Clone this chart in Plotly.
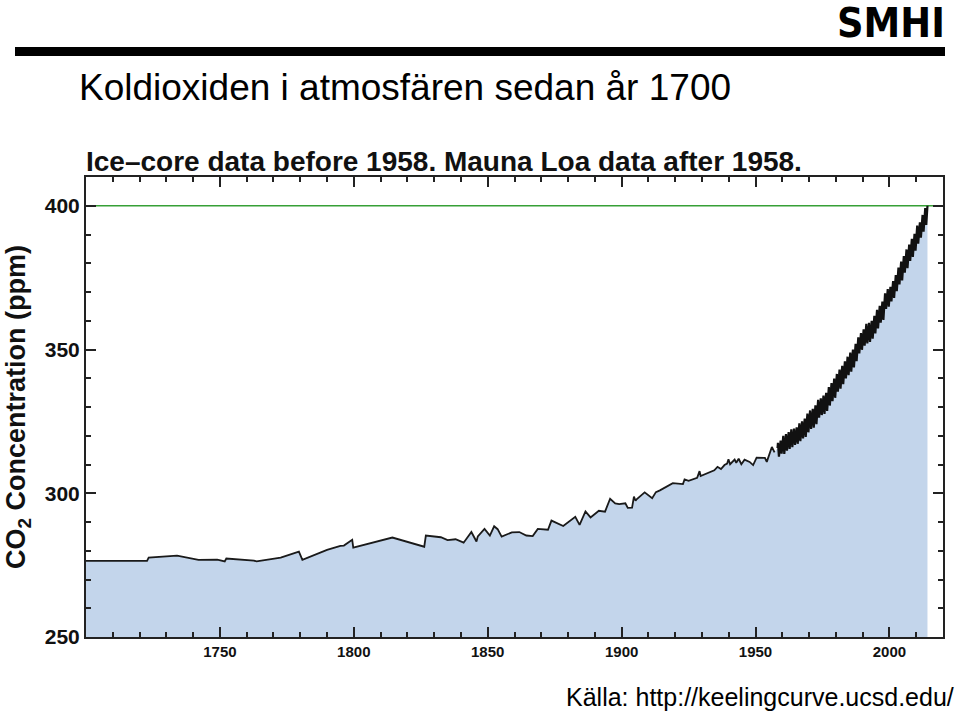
import plotly.graph_objects as go

# ---------------- data ----------------
ice_years = [1700.0, 1722.8, 1723.4, 1734.0, 1742.0, 1749.0, 1751.8, 1752.4, 1762.7, 1763.7,
             1772.7, 1779.5, 1780.8, 1790.0, 1795.0, 1796.3, 1799.4, 1799.8, 1814.4, 1826.3,
             1826.9, 1832.5, 1835.0, 1838.0, 1841.0, 1843.9, 1845.8, 1846.3, 1848.8, 1850.8,
             1852.4, 1853.7, 1855.2, 1859.0, 1861.8, 1864.4, 1866.8, 1868.7, 1872.5, 1873.8,
             1878.2, 1882.7, 1884.3, 1886.5, 1888.4, 1891.5, 1893.8, 1895.7, 1897.6, 1899.1,
             1901.4, 1902.3, 1903.9, 1904.6, 1905.2, 1905.7, 1908.6, 1911.4, 1912.8, 1914.3,
             1919.1, 1922.9, 1923.5, 1925.0, 1928.2, 1929.1, 1929.5, 1932.7, 1934.6, 1935.8,
             1937.1, 1938.4, 1939.4, 1939.9, 1940.5, 1942.2, 1942.8, 1943.7, 1944.7, 1945.9,
             1947.8, 1949.1, 1950.4, 1953.5, 1954.2, 1956.1, 1957.1]
ice_ppm = [276.5, 276.5, 277.6, 278.3, 276.8, 276.9, 276.3, 277.3, 276.6, 276.3,
           277.6, 279.7, 276.8, 280.3, 281.7, 281.8, 283.8, 281.1, 284.6, 281.4,
           285.3, 284.7, 283.7, 284.0, 282.8, 286.5, 283.2, 285.0, 287.6, 285.3,
           288.5, 287.5, 284.9, 286.4, 286.5, 285.3, 285.1, 287.6, 287.3, 290.5,
           288.6, 291.8, 289.0, 293.7, 291.6, 293.9, 293.6, 298.1, 296.5, 296.2,
           296.5, 294.9, 295.0, 298.8, 297.4, 298.0, 300.3, 298.3, 300.4, 301.0,
           303.5, 303.2, 304.8, 304.3, 305.4, 307.7, 306.0, 307.3, 308.0, 309.2,
           308.4, 309.8, 310.3, 311.8, 310.1, 311.7, 310.6, 312.0, 310.1, 311.7,
           310.9, 309.8, 312.4, 312.3, 310.9, 316.1, 314.2]

# Mauna Loa: seasonal maxima (May) and minima (late Sep/Oct)
ml_years = [1958.21, 1958.37, 1958.74, 1959.37, 1959.74, 1960.37, 1960.74, 1961.37, 1961.74,
            1962.37, 1962.74, 1963.37, 1963.74, 1964.37, 1964.74, 1965.37, 1965.74,
            1966.37, 1966.74, 1967.37, 1967.74, 1968.37, 1968.74, 1969.37, 1969.74,
            1970.37, 1970.74, 1971.37, 1971.74, 1972.37, 1972.74, 1973.37, 1973.74,
            1974.37, 1974.74, 1975.37, 1975.74, 1976.37, 1976.74, 1977.37, 1977.74,
            1978.37, 1978.74, 1979.37, 1979.74, 1980.37, 1980.74, 1981.37, 1981.74,
            1982.37, 1982.74, 1983.37, 1983.74, 1984.37, 1984.74, 1985.37, 1985.74,
            1986.37, 1986.74, 1987.37, 1987.74, 1988.37, 1988.74, 1989.37, 1989.74,
            1990.37, 1990.74, 1991.37, 1991.74, 1992.37, 1992.74, 1993.37, 1993.74,
            1994.37, 1994.74, 1995.37, 1995.74, 1996.37, 1996.74, 1997.37, 1997.74,
            1998.37, 1998.74, 1999.37, 1999.74, 2000.37, 2000.74, 2001.37, 2001.74,
            2002.37, 2002.74, 2003.37, 2003.74, 2004.37, 2004.74, 2005.37, 2005.74,
            2006.37, 2006.74, 2007.37, 2007.74, 2008.37, 2008.74, 2009.37, 2009.74,
            2010.37, 2010.74, 2011.37, 2011.74, 2012.37, 2012.74, 2013.37, 2013.74,
            2014.20]
ml_ppm = [315.7, 317.5, 312.7, 318.3, 313.8, 320.0, 313.7, 320.6, 314.8,
          321.3, 315.4, 322.2, 316.0, 322.5, 316.8, 322.9, 317.2,
          324.3, 318.1, 325.0, 319.1, 326.0, 319.6, 327.7, 321.2,
          328.8, 322.4, 329.4, 322.8, 330.6, 324.0, 332.5, 326.3,
          333.0, 327.2, 334.0, 327.6, 334.9, 328.6, 336.9, 330.5,
          338.3, 332.0, 339.9, 333.2, 341.5, 335.3, 343.0, 336.4,
          344.3, 337.9, 345.9, 339.9, 347.5, 341.1, 348.9, 342.3,
          350.0, 343.8, 352.0, 345.9, 354.2, 348.6, 355.7, 349.9,
          357.0, 351.3, 358.9, 352.1, 359.3, 352.6, 360.0, 353.8,
          361.7, 355.6, 363.8, 357.3, 365.2, 359.3, 366.7, 360.3,
          369.5, 364.1, 371.0, 364.9, 371.8, 366.7, 373.8, 367.9,
          375.9, 370.3, 378.5, 372.6, 380.6, 374.0, 382.5, 376.7,
          384.8, 378.3, 386.5, 380.8, 388.5, 382.2, 390.2, 384.4,
          393.1, 386.8, 394.2, 388.9, 396.8, 391.0, 399.2, 393.3,
          400.0]

x_tickvals = [1750, 1800, 1850, 1900, 1950, 2000]
y_tickvals = [250, 300, 350, 400]
ref_level = 400

title_text = "Koldioxiden i atmosfären sedan år 1700"
subtitle_text = "Ice\u2013core data before 1958. Mauna Loa data after 1958."
ytitle_text = "CO<sub>2</sub> Concentration (ppm)"
source_text = "Källa: http://keelingcurve.ucsd.edu/"
logo_text = "SMHI"

# ---------------- figure ----------------
W, H = 960, 714
L, R, T, B = 86, 17, 177, 77
pw, ph = W - L - R, H - T - B


def px(xp):
    return (xp - L) / pw


def py(yp):
    return (H - B - yp) / ph


FONT = "Liberation Sans, Arial, Helvetica, sans-serif"

fig = go.Figure()

fig.add_trace(go.Scatter(
    x=ice_years + ml_years, y=ice_ppm + ml_ppm,
    mode="lines", fill="tozeroy", fillcolor="rgb(195,213,235)",
    line=dict(width=0), hoverinfo="skip", showlegend=False))

fig.add_trace(go.Scatter(
    x=[1700, 2020], y=[ref_level, ref_level], mode="lines",
    line=dict(color="rgb(55,160,55)", width=1.6), showlegend=False))

fig.add_trace(go.Scatter(
    x=ice_years, y=ice_ppm, mode="lines",
    line=dict(color="#1a1a1a", width=1.8), showlegend=False))

fig.add_trace(go.Scatter(
    x=ml_years, y=ml_ppm, mode="lines",
    line=dict(color="#111111", width=2.2), showlegend=False))

axis_common = dict(
    showline=True, linecolor="#222222", linewidth=2, mirror="ticks",
    ticks="inside", ticklen=10, tickwidth=1.6, tickcolor="#222222",
    showgrid=False, zeroline=False,
)

fig.update_xaxes(
    range=[1700, 2020], tickvals=x_tickvals,
    tickfont=dict(family=FONT, size=15, color="#111111", weight="bold"),
    minor=dict(dtick=10, tick0=1700, ticks="inside", ticklen=5, tickwidth=1.6,
               tickcolor="#222222", showgrid=False),
    **axis_common)

fig.update_yaxes(
    range=[250, 410], tickvals=y_tickvals,
    tickfont=dict(family=FONT, size=21, color="#111111", weight="bold"),
    minor=dict(dtick=10, tick0=250, ticks="inside", ticklen=5, tickwidth=1.6,
               tickcolor="#222222", showgrid=False),
    **axis_common)

annotations = [
    dict(text=title_text, x=px(77), y=py(87), xanchor="left", yanchor="middle",
         font=dict(family=FONT, size=37, color="#000000")),
    dict(text=subtitle_text, x=px(84), y=py(161), xanchor="left", yanchor="middle",
         font=dict(family=FONT, size=28, color="#111111", weight="bold")),
    dict(text=ytitle_text, x=px(18), y=0.5, xanchor="center", yanchor="middle",
         textangle=-90,
         font=dict(family=FONT, size=27, color="#111111", weight="bold")),
    dict(text=source_text, x=px(956), y=py(697), xanchor="right", yanchor="middle",
         font=dict(family=FONT, size=25, color="#000000")),
    dict(text=logo_text, x=px(891), y=py(23), xanchor="center", yanchor="middle",
         font=dict(family="Liberation Sans Narrow, DejaVu Sans Condensed, sans-serif",
                   size=41, color="#000000", weight="bold")),
]
for a in annotations:
    a.update(xref="paper", yref="paper", showarrow=False)

fig.update_layout(
    width=W, height=H,
    margin=dict(l=L, r=R, t=T, b=B, autoexpand=False),
    paper_bgcolor="white", plot_bgcolor="white",
    annotations=annotations,
    shapes=[dict(type="rect", xref="paper", yref="paper",
                 x0=px(15), x1=px(945), y0=py(56), y1=py(47),
                 fillcolor="black", line=dict(width=0))],
)

fig.write_html("out.html")
